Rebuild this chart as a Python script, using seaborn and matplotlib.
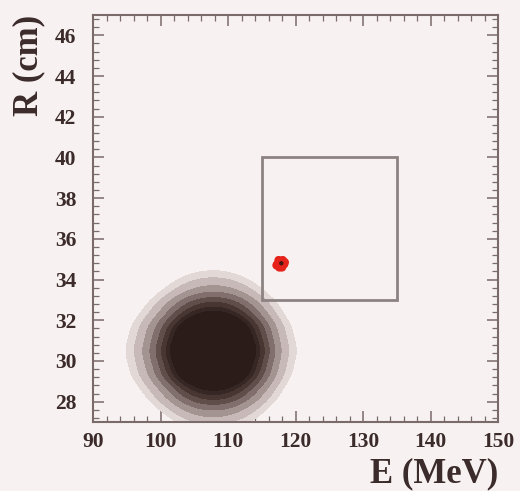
import matplotlib
matplotlib.use("Agg")
import matplotlib.pyplot as plt
import pandas as pd
import seaborn as sns
from matplotlib.colors import ListedColormap
from matplotlib.patches import Rectangle
from matplotlib.ticker import MultipleLocator

# Main cloud: relative event density, per (E, R) bin
cloud_E = [93, 95, 97, 99, 101, 103, 105, 107, 109, 111, 113, 115, 117, 119, 121, 123, 125, 127]
cloud_R = [34.5, 33.5, 32.5, 31.5, 30.5, 29.5, 28.5, 27.5]
cloud_density = [
    [0, 0, 0.01, 0.02, 0.06, 0.16, 0.29, 0.39, 0.38, 0.26, 0.13, 0.05, 0.01, 0, 0, 0, 0, 0],
    [0.01, 0.02, 0.05, 0.17, 0.45, 1.2, 2.2, 2.9, 2.8, 2.0, 1.0, 0.36, 0.09, 0.02, 0.01, 0, 0, 0],
    [0.04, 0.1, 0.29, 1.0, 2.9, 7.4, 14, 18, 18, 13, 6.3, 2.3, 0.6, 0.15, 0.06, 0.02, 0.01, 0],
    [0.13, 0.33, 1.0, 3.6, 9.9, 26, 48, 64, 62, 44, 22, 7.9, 2.0, 0.5, 0.2, 0.07, 0.03, 0.01],
    [0.2, 0.5, 1.5, 5.5, 15, 39, 73, 97, 94, 66, 33, 12, 3.1, 0.8, 0.3, 0.1, 0.05, 0.02],
    [0.13, 0.33, 1.0, 3.6, 9.9, 26, 48, 64, 62, 44, 22, 7.9, 2.0, 0.5, 0.2, 0.07, 0.03, 0.01],
    [0.04, 0.1, 0.29, 1.0, 2.9, 7.4, 14, 18, 18, 13, 6.3, 2.3, 0.6, 0.15, 0.06, 0.02, 0.01, 0],
    [0.01, 0.03, 0.06, 0.2, 0.5, 1.4, 2.6, 3.4, 3.3, 2.3, 1.2, 0.4, 0.1, 0.03, 0.01, 0, 0, 0],
]

# Signal events (red blob)
red_E = [117.3, 117.8, 118.3, 117.5, 118.1, 117.6, 118.0, 117.2, 118.4]
red_R = [34.75, 34.8, 34.75, 34.95, 34.95, 34.6, 34.6, 34.7, 34.85]
red_core_E = [117.9]
red_core_R = [34.8]

# Signal box
box_E = [115, 135]
box_R = [33, 40]

bg = "#f7f2f1"
ink = "#3b2b2a"

rows = []
for i, r in enumerate(cloud_R):
    for j, e in enumerate(cloud_E):
        if cloud_density[i][j] > 0:
            rows.append((e, r, cloud_density[i][j]))
df = pd.DataFrame(rows, columns=["E", "R", "w"])

sns.set_style("ticks")
plt.rcParams["font.family"] = ["Liberation Serif", "DejaVu Serif"]
plt.rcParams["font.weight"] = "bold"

fig = plt.figure(figsize=(5.2, 4.91), dpi=100, facecolor=bg)
ax = fig.add_axes([93 / 520, 1 - 422 / 491, 405 / 520, 407 / 491])
ax.set_facecolor(bg)

# shaded bands, from the sparse outskirts to the saturated core
levels = [0.01, 0.02, 0.04, 0.07, 0.11, 0.16, 0.22, 0.28]
band_colors = ["#e2d9d7", "#c6b9b7", "#a39492", "#806f6d", "#604e4b",
               "#483633", "#362624", "#2b1c1a"]
for lvl, c in zip(levels, band_colors):
    sns.kdeplot(data=df, x="E", y="R", weights="w", fill=True, ax=ax,
                levels=[lvl, 1.0], cmap=ListedColormap([c]), bw_method=0.45,
                gridsize=250, cut=4)

ax.add_patch(Rectangle((box_E[0], box_R[0]), box_E[1] - box_E[0], box_R[1] - box_R[0],
                       fill=False, edgecolor="#8c8282", linewidth=2, zorder=3))

sns.scatterplot(x=red_E, y=red_R, color="#e5231b", s=38, edgecolor="none", ax=ax, zorder=4)
sns.scatterplot(x=red_core_E, y=red_core_R, color="#4a1410", s=10, edgecolor="none", ax=ax, zorder=5)

ax.set_xlim(90, 150)
ax.set_ylim(27, 47)
ax.xaxis.set_major_locator(MultipleLocator(10))
ax.xaxis.set_minor_locator(MultipleLocator(2))
ax.yaxis.set_minor_locator(MultipleLocator(0.4))
ax.set_yticks(range(28, 47, 2))

ax.tick_params(which="both", direction="in", top=True, right=True, color="#7a6a6a",
               labelcolor=ink, labelsize=15.5)
ax.tick_params(which="major", length=8, width=1.1)
ax.tick_params(which="minor", length=4, width=0.9)
ax.tick_params(axis="x", pad=7)
ax.tick_params(axis="y", pad=12)
for s in ax.spines.values():
    s.set_color("#7a6a6a")
    s.set_linewidth(1.5)

ax.set_xlabel("E (MeV)", fontsize=25, fontweight="bold", color=ink, loc="right")
ax.xaxis.set_label_coords(1.0, -0.086)
ax.set_ylabel("R (cm)", fontsize=25, fontweight="bold", color=ink, loc="top")
ax.yaxis.set_label_coords(-0.118, 1.0)

fig.savefig("out.png", dpi=100, facecolor=bg)
